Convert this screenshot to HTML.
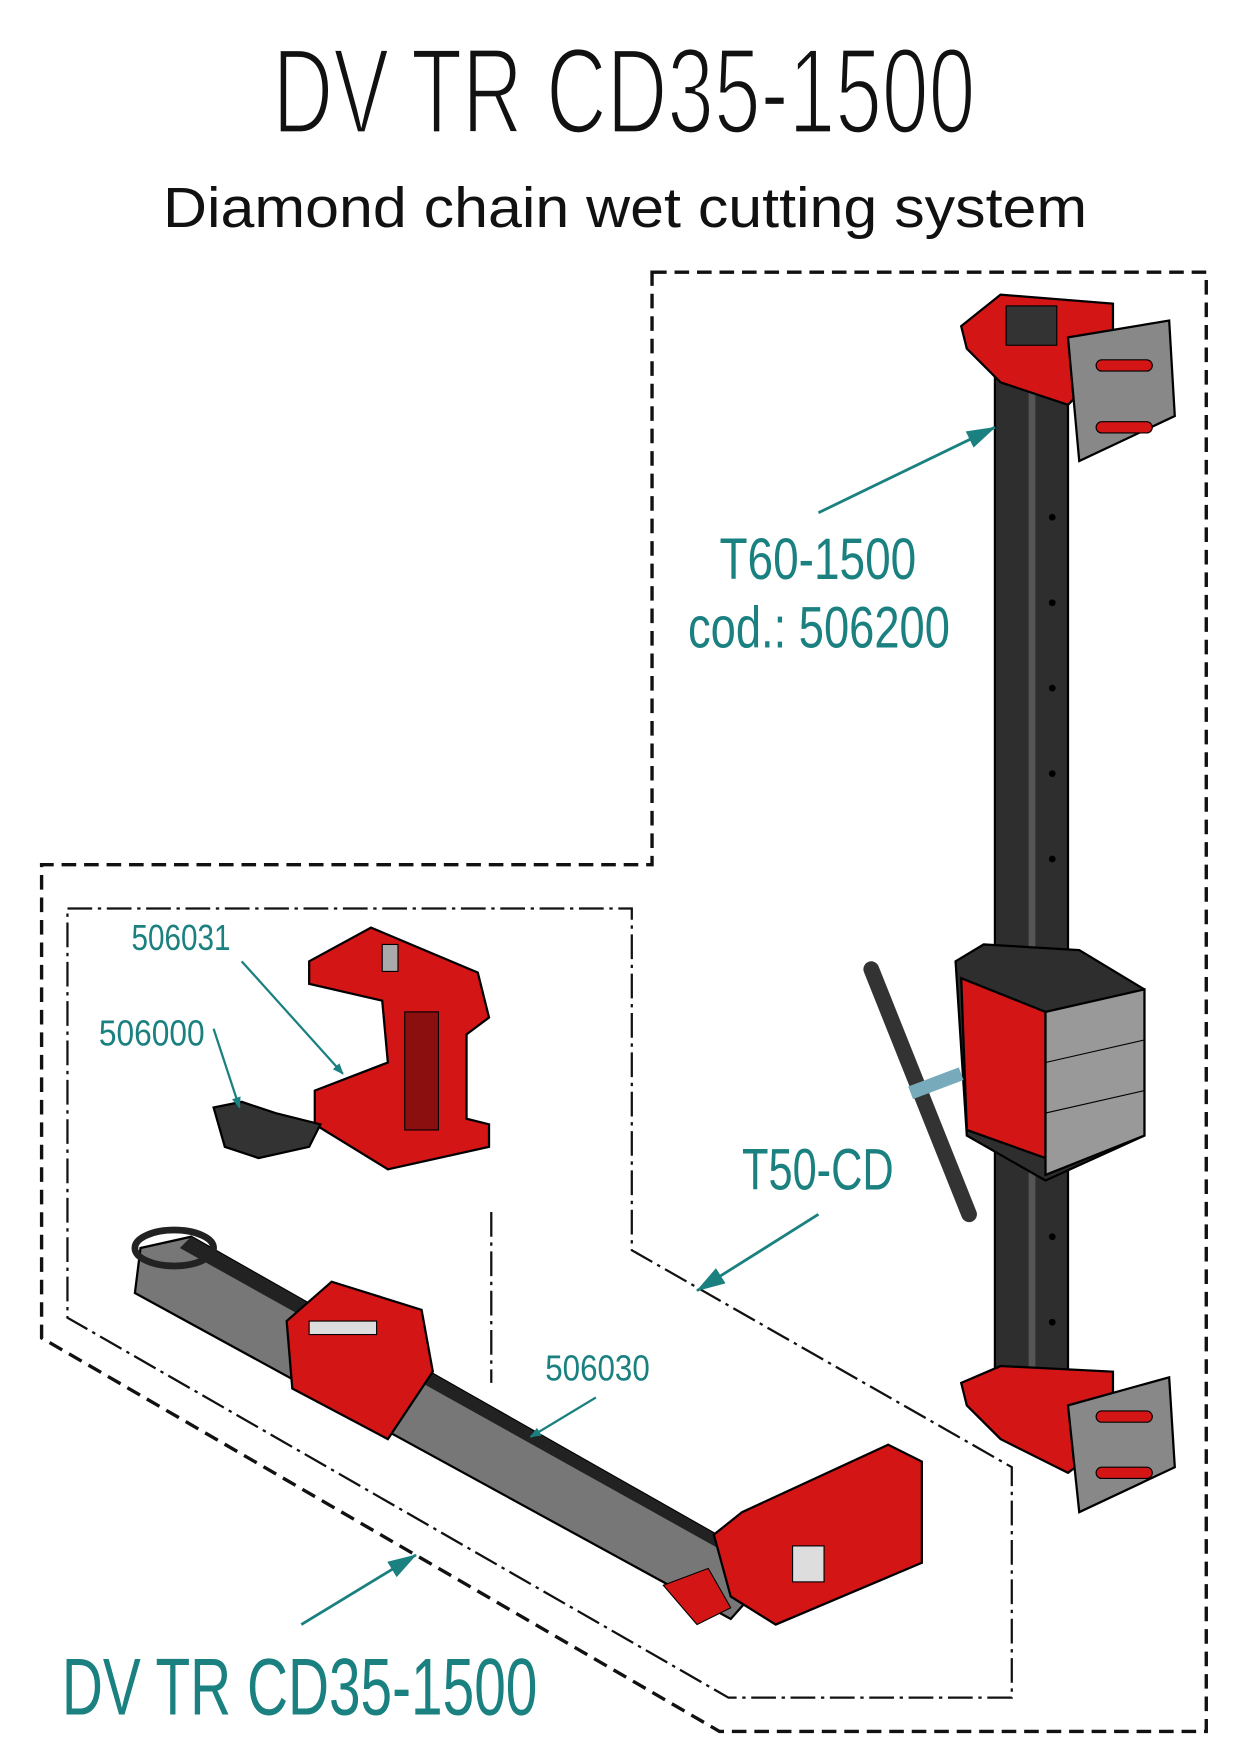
<!DOCTYPE html>
<html><head><meta charset="utf-8"><style>
html,body{margin:0;padding:0;background:#fff;}
svg{display:block;}
text{font-family:"Liberation Sans",sans-serif;}
</style></head><body>
<svg width="1240" height="1754" viewBox="0 0 1103 1560" xmlns="http://www.w3.org/2000/svg">
<defs>
<marker id="ah" markerWidth="10" markerHeight="8" refX="9" refY="4" orient="auto" markerUnits="userSpaceOnUse" viewBox="0 0 10 8">
<path d="M0,0 L10,4 L0,8 Z" fill="#1a8080"/></marker>
<marker id="ahb" markerWidth="26" markerHeight="16" refX="25" refY="8" orient="auto" markerUnits="userSpaceOnUse" viewBox="0 0 26 16">
<path d="M0,0 L26,8 L0,16 Z" fill="#1a8080"/></marker>
</defs>
<text x="555" y="118" font-size="108" text-anchor="middle" textLength="625" lengthAdjust="spacingAndGlyphs" fill="#111" stroke="#fff" stroke-width="3">DV TR CD35-1500</text>
<text x="556" y="202" font-size="50" text-anchor="middle" textLength="822" lengthAdjust="spacingAndGlyphs" fill="#111">Diamond chain wet cutting system</text>

<path d="M580,242 L1073,242 L1073,1540 L640,1540 L37,1190 L37,769 L580,769 Z" fill="none" stroke="#111" stroke-width="3" stroke-dasharray="13,7"/>
<path d="M60,808 L562,808 L562,1112 L900,1305 L900,1510 L648,1510 L60,1172 Z" fill="none" stroke="#111" stroke-width="2" stroke-dasharray="22,5,3,5"/>
<line x1="437" y1="1078" x2="437" y2="1230" stroke="#111" stroke-width="2" stroke-dasharray="22,5,3,5"/>

<rect x="885" y="300" width="65" height="945" fill="#2e2e2e" stroke="#000" stroke-width="2"/>
<rect x="915" y="300" width="6" height="945" fill="#555"/>
<g fill="#000"><circle cx="936" cy="460" r="3"/><circle cx="936" cy="536" r="3"/><circle cx="936" cy="612" r="3"/><circle cx="936" cy="688" r="3"/><circle cx="936" cy="764" r="3"/><circle cx="936" cy="1100" r="3"/><circle cx="936" cy="1176" r="3"/></g>
<path d="M855,290 L890,262 L990,270 L990,320 L950,360 L890,340 L860,310 Z" fill="#d31515" stroke="#000" stroke-width="2"/>
<rect x="895" y="272" width="45" height="35" fill="#333" stroke="#000"/>
<path d="M950,300 L1040,285 L1045,370 L960,410 Z" fill="#888" stroke="#000" stroke-width="2"/>
<rect x="975" y="320" width="50" height="10" rx="5" fill="#d31515" stroke="#000"/>
<rect x="975" y="375" width="50" height="10" rx="5" fill="#d31515" stroke="#000"/>
<path d="M855,1230 L890,1215 L990,1220 L990,1280 L950,1310 L890,1280 L860,1250 Z" fill="#d31515" stroke="#000" stroke-width="2"/>
<path d="M950,1250 L1040,1225 L1045,1305 L960,1345 Z" fill="#888" stroke="#000" stroke-width="2"/>
<rect x="975" y="1255" width="50" height="10" rx="5" fill="#d31515" stroke="#000"/>
<rect x="975" y="1305" width="50" height="10" rx="5" fill="#d31515" stroke="#000"/>
<path d="M850,855 L875,840 L960,845 L1018,880 L1018,1010 L930,1050 L860,1010 Z" fill="#2e2e2e" stroke="#000" stroke-width="2"/>
<path d="M855,870 L930,900 L930,1030 L860,1005 Z" fill="#d31515" stroke="#000" stroke-width="2"/>
<path d="M930,900 L1018,880 L1018,1010 L930,1045 Z" fill="#999" stroke="#000" stroke-width="2"/>
<line x1="930" y1="945" x2="1018" y2="925" stroke="#000"/><line x1="930" y1="990" x2="1018" y2="970" stroke="#000"/>
<line x1="775" y1="862" x2="862" y2="1080" stroke="#333" stroke-width="14" stroke-linecap="round"/>
<line x1="810" y1="972" x2="855" y2="955" stroke="#7ab" stroke-width="12"/>

<path d="M275,855 L330,825 L425,865 L435,905 L415,920 L415,995 L435,1000 L435,1020 L345,1040 L280,1000 L280,970 L345,945 L340,890 L275,875 Z" fill="#d31515" stroke="#000" stroke-width="2"/>
<rect x="360" y="900" width="30" height="105" fill="#8b0f0f" stroke="#000"/>
<rect x="340" y="840" width="14" height="24" fill="#aaa" stroke="#000"/>
<path d="M190,985 L215,980 L245,990 L285,1000 L275,1020 L230,1030 L200,1020 Z" fill="#333" stroke="#000" stroke-width="2"/>

<path d="M125,1110 L170,1100 L690,1395 L650,1440 L120,1150 Z" fill="#777" stroke="#000" stroke-width="2"/>
<path d="M170,1100 L690,1395 L680,1400 L160,1110 Z" fill="#222"/>
<ellipse cx="155" cy="1110" rx="35" ry="16" fill="none" stroke="#222" stroke-width="6"/>
<path d="M255,1175 L295,1140 L375,1165 L385,1220 L345,1280 L260,1235 Z" fill="#d31515" stroke="#000" stroke-width="2"/>
<rect x="275" y="1175" width="60" height="12" fill="#ddd" stroke="#000"/>
<path d="M635,1365 L660,1345 L790,1285 L820,1300 L820,1390 L690,1445 L650,1420 Z" fill="#d31515" stroke="#000" stroke-width="2"/>
<rect x="705" y="1375" width="28" height="32" fill="#ddd" stroke="#000"/>
<path d="M590,1410 L630,1395 L650,1430 L620,1445 Z" fill="#d31515" stroke="#000"/>

<g fill="#1a8080">
<text x="640" y="515" font-size="52" textLength="175" lengthAdjust="spacingAndGlyphs">T60-1500</text>
<text x="612" y="576" font-size="52" textLength="233" lengthAdjust="spacingAndGlyphs">cod.: 506200</text>
<text x="660" y="1058" font-size="52" textLength="135" lengthAdjust="spacingAndGlyphs">T50-CD</text>
<text x="117" y="845" font-size="32" textLength="88" lengthAdjust="spacingAndGlyphs">506031</text>
<text x="88" y="930" font-size="32" textLength="94" lengthAdjust="spacingAndGlyphs">506000</text>
<text x="485" y="1228" font-size="32" textLength="93" lengthAdjust="spacingAndGlyphs">506030</text>
<text x="55" y="1525" font-size="72" textLength="423" lengthAdjust="spacingAndGlyphs">DV TR CD35-1500</text>
</g>
<g stroke="#1a8080" stroke-width="2" fill="none">
<line x1="728" y1="456" x2="885" y2="380" stroke-width="2.5" marker-end="url(#ahb)"/>
<line x1="728" y1="1080" x2="620" y2="1148" stroke-width="2.5" marker-end="url(#ahb)"/>
<line x1="215" y1="855" x2="305" y2="955" marker-end="url(#ah)"/>
<line x1="190" y1="915" x2="213" y2="985" marker-end="url(#ah)"/>
<line x1="530" y1="1243" x2="472" y2="1278" marker-end="url(#ah)"/>
<line x1="268" y1="1445" x2="370" y2="1383" stroke-width="2.5" marker-end="url(#ahb)"/>
</g>
</svg>
</body></html>
